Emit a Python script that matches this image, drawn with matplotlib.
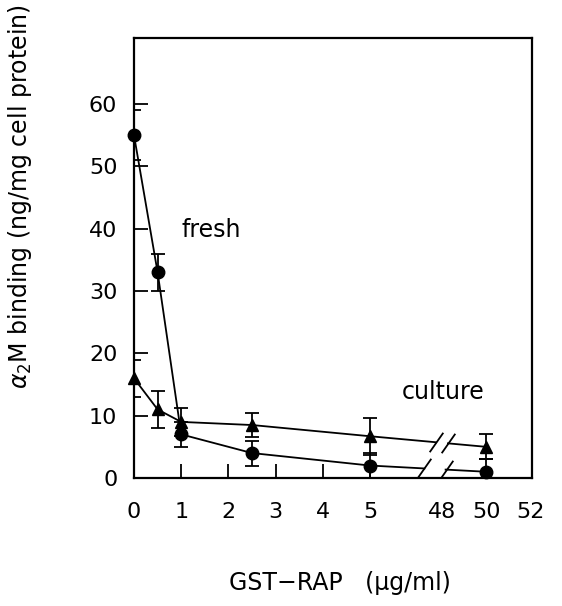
import numpy as np
import matplotlib
matplotlib.use('Agg')
import matplotlib.pyplot as plt

# GST-RAP concentration (ug/ml) and alpha2M binding (ng/mg cell protein)
conc = [0, 0.5, 1, 2.5, 5, 50]
fresh = [55, 33, 7, 4, 2, 1]
fresh_err = [4, 3, 2, 2, 2, 2]
culture = [16, 11, 9, 8.5, 6.7, 5]
culture_err = [3, 3, 2.2, 2, 3, 2]

xticks = [0, 1, 2, 3, 4, 5]
xticks_far = [48, 50, 52]
yticks = [0, 10, 20, 30, 40, 50, 60]


def xpos(x):
    # broken axis: 0..5 linear, 48..52 squeezed after the break
    x = np.asarray(x, dtype=float)
    return np.where(x >= 48, 6.53 + 0.465 * (x - 48), x)


fig = plt.figure(figsize=(5.62, 6.06), dpi=100)
ax = fig.add_axes([134 / 562, 1 - 478 / 606, (532 - 134) / 562, (478 - 38) / 606])

FS_TICK = 16
FS = 17
gaps = {'fresh': (6.15, 6.6), 'culture': (6.4, 6.65)}


def draw_series(y, err, marker, ms, gap):
    px = xpos(conc)
    y = np.asarray(y, dtype=float)
    ax.errorbar(px, y, yerr=err, fmt='none', ecolor='black', elinewidth=1.3,
                capsize=5, capthick=1.3, zorder=2)
    # segments before the break
    ax.plot(px[:5], y[:5], color='black', lw=1.3, zorder=2)
    # bridge across the break, with a gap
    yg = np.interp(gap, [px[4], px[5]], [y[4], y[5]])
    ax.plot([px[4], gap[0]], [y[4], yg[0]], color='black', lw=1.3, zorder=2)
    ax.plot([gap[1], px[5]], [yg[1], y[5]], color='black', lw=1.3, zorder=2)
    ax.plot(gap, yg, linestyle='none', marker=[(-0.7, -1), (0.7, 1)],
            markersize=14, markeredgewidth=1.3, color='black', zorder=2)
    ax.plot(px, y, linestyle='none', marker=marker, markersize=ms,
            color='black', zorder=3, clip_on=False)


draw_series(fresh, fresh_err, 'o', 9, gaps['fresh'])
draw_series(culture, culture_err, '^', 9, gaps['culture'])

ax.set_xlim(0, 8.43)
ax.set_ylim(0, 70.6)

ax.set_xticks(xpos(xticks), [str(t) for t in xticks])
ax.set_xticks(xpos(xticks_far), [str(t) for t in xticks_far], minor=True)
ax.set_yticks(yticks, [str(t) for t in yticks])

ax.tick_params(axis='both', which='major', direction='in', length=10, width=1.3,
               labelsize=FS_TICK)
ax.tick_params(axis='x', which='major', pad=17)
ax.tick_params(axis='y', which='major', pad=12)
ax.tick_params(axis='x', which='minor', length=0, labelsize=FS_TICK, pad=17)

for s in ax.spines.values():
    s.set_linewidth(1.6)

ax.text(1.0, 39.8, 'fresh', fontsize=FS, va='center', ha='left')
ax.text(5.68, 13.8, 'culture', fontsize=FS, va='center', ha='left')

fig.text(0.036, 1 - 197 / 606, r'$\alpha_2$M binding (ng/mg cell protein)',
         rotation=90, fontsize=FS, ha='center', va='center')
fig.text(340 / 562, 1 - 583 / 606, 'GST\u2212RAP   (\u03bcg/ml)', fontsize=FS,
         ha='center', va='center')

fig.savefig('out.png', dpi=100)
